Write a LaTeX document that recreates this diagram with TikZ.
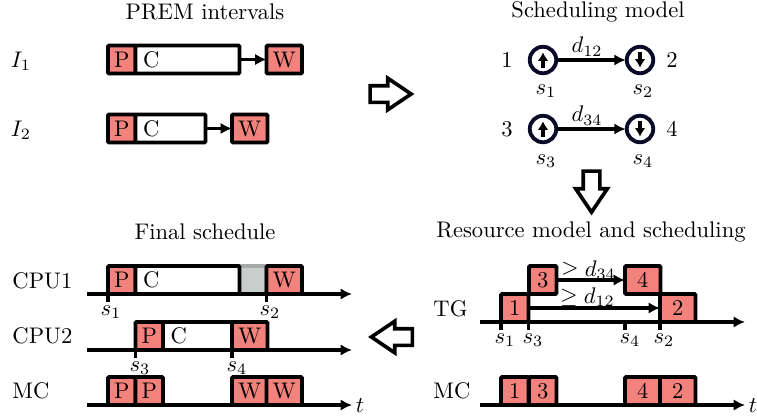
\documentclass[tikz,border=0pt]{standalone}
\usetikzlibrary{shapes.arrows, arrows.meta}

\newcommand{\unitpx}{0.443pt}
\definecolor{premred}{HTML}{F4827C}
\definecolor{idlegray}{HTML}{C9CDCB}
\definecolor{idleline}{HTML}{A6ABA9}
\definecolor{ringblue}{HTML}{0A0A28}

\tikzset{
  blk/.style={draw, line width=1.6pt, anchor=west, outer sep=0pt, inner xsep=0pt, inner ysep=0pt,
    minimum height=28*\unitpx, text height=6.83pt, text depth=0pt, rounded corners=0.4pt},
  pblk/.style={blk, fill=premred, minimum width=27.5*\unitpx},
  wblk/.style={blk, fill=premred, minimum width=35.5*\unitpx},
  cblk/.style={blk, fill=white, minimum width=#1*\unitpx, align=left, text width=#1*\unitpx-15*\unitpx, inner xsep=7.5*\unitpx},
  idleblk/.style={blk, fill=idlegray, draw=idleline, minimum width=27*\unitpx},
  ring/.style={circle, draw=ringblue, fill=white, line width=1.7pt, minimum size=26.5*\unitpx, inner sep=0pt, outer sep=0.5pt},
  wire/.style={->, line width=1.6pt},
  axis/.style={->, line width=1.6pt},
  tick/.style={line width=1.6pt},
  dirarrow/.style={-{Latex[length=3.8pt, width=4.8pt]}, line width=1.6pt},
  bigarrow/.style={single arrow, draw, line width=1.6pt, fill=white, inner xsep=0pt, inner ysep=6.5*\unitpx, outer sep=0pt,
    minimum height=41*\unitpx, single arrow head extend=7.5*\unitpx,
    single arrow tip angle=68, single arrow head indent=0pt},
}

\begin{document}
\begin{tikzpicture}[>={Latex[length=5pt, width=5pt]}, x=\unitpx, y=-\unitpx]
    \useasboundingbox (0, 0) rectangle (757, 418);

    % TITLES
    \node (titleprem) at (205, 12) {PREM intervals};
    \node (titlemodel) at (598, 12) {Scheduling model};
    \node (titlefinal) at (205, 232) {Final schedule};
    \node (titleres) at (591, 232) {Resource model and scheduling};

    % PREM INTERVALS
    \node (labi1) at (21, 61) {$I_1$};
    \node (p1) at (108, 59.5) [pblk] {P};
    \node (c1) at (135.5, 59.5) [cblk=104] {C};
    \node (w1) at (266.5, 59.5) [wblk] {W};
    \draw[wire] (c1) -- (w1);

    \node (labi2) at (21, 130) {$I_2$};
    \node (p2) at (108, 128.5) [pblk] {P};
    \node (c2) at (135.5, 128.5) [cblk=70] {C};
    \node (w2) at (232, 128.5) [wblk] {W};
    \draw[wire] (c2) -- (w2);

    % SCHEDULING MODEL
    \node (a1) at (543, 60) [ring] {};
    \node (a2) at (640, 60) [ring] {};
    \node (a3) at (543, 129) [ring] {};
    \node (a4) at (640, 129) [ring] {};
    \node (n1) at (507, 60) {1};
    \node (n2) at (672, 60) {2};
    \node (n3) at (507, 129) {3};
    \node (n4) at (672, 129) {4};
    \node (m1) at (546, 91) {$s_1$};
    \node (m2) at (643, 91) {$s_2$};
    \node (m3) at (546, 161) {$s_3$};
    \node (m4) at (643, 161) {$s_4$};
    \draw[wire] (a1) -- node[above, yshift=-2.5pt, xshift=-2pt] {$d_{12}$} (a2);
    \draw[wire] (a3) -- node[above, yshift=-2.5pt, xshift=-2pt] {$d_{34}$} (a4);
    % Arrows inside the circles
    \draw[dirarrow] ([yshift=-3.4pt]a1.center) -- ([yshift=3.4pt]a1.center);
    \draw[dirarrow] ([yshift=3.4pt]a2.center) -- ([yshift=-3.4pt]a2.center);
    \draw[dirarrow] ([yshift=-3.4pt]a3.center) -- ([yshift=3.4pt]a3.center);
    \draw[dirarrow] ([yshift=3.4pt]a4.center) -- ([yshift=-3.4pt]a4.center);

    % BLOCK ARROWS
    \node (toright) at (384.5, 94) [bigarrow] {};
    \node (todown) at (591.5, 185.5) [bigarrow, rotate=-90] {};
    \node (toleft) at (398, 337) [bigarrow, rotate=180] {};

    % FINAL SCHEDULE
    \node (labcpu1) at (4.5, 281) [anchor=west] {CPU1};
    \node (labcpu2) at (4.5, 336) [anchor=west] {CPU2};
    \node (labmc1) at (4.5, 391) [anchor=west] {MC};

    \coordinate (cpu1a) at (87, 294);
    \coordinate (cpu1b) at (352, 294);
    \node (idle) at (239, 280) [idleblk] {};
    \node (p3) at (108, 280) [pblk] {P};
    \node (c3) at (135.5, 280) [cblk=104] {C};
    \node (w3) at (266.5, 280) [wblk] {W};
    \draw[axis] (cpu1a) -- (cpu1b);
    \draw[tick] (p3.south west) -- ++(0, 8);
    \draw[tick] (w3.south west) -- ++(0, 8);
    \node (f1) at (111, 312) {$s_1$};
    \node (f2) at (270, 312) {$s_2$};

    \coordinate (cpu2a) at (87, 350);
    \coordinate (cpu2b) at (352, 350);
    \node (p4) at (135.5, 336) [pblk] {P};
    \node (c4) at (163, 336) [cblk=69] {C};
    \node (w4) at (232, 336) [wblk] {W};
    \draw[axis] (cpu2a) -- (cpu2b);
    \draw[tick] (p4.south west) -- ++(0, 8);
    \draw[tick] (w4.south west) -- ++(0, 8);
    \node (f3) at (140, 368) {$s_3$};
    \node (f4) at (237, 368) {$s_4$};

    \coordinate (mc1a) at (87, 405);
    \coordinate (mc1b) at (352, 405);
    \node (p5) at (108, 391) [pblk] {P};
    \node (p6) at (135.5, 391) [pblk] {P};
    \node (w5) at (232, 391) [wblk] {W};
    \node (w6) at (266.5, 391) [wblk] {W};
    \draw[axis] (mc1a) -- (mc1b);
    \node (t1) at (360, 406) {$t$};

    % RESOURCE MODEL
    \node (labtg) at (425.5, 309) [anchor=west] {TG};
    \node (labmc2) at (425.5, 391) [anchor=west] {MC};

    \coordinate (tga) at (480, 322);
    \coordinate (tgb) at (745, 322);
    \node (b1) at (501, 308) [pblk] {1};
    \node (b3) at (529, 280) [pblk] {3};
    \node (b4) at (625, 280) [wblk] {4};
    \node (b2) at (660, 308) [wblk] {2};
    \draw[axis] (tga) -- (tgb);
    \draw[wire] (b3) -- node[above, yshift=-4pt, xshift=-1pt] {$\geq d_{34}$} (b4);
    \draw[wire] (b1) -- node[above, yshift=-3.5pt, xshift=-3pt] {$\geq d_{12}$} (b2);
    \draw[tick] (b1.south west) -- ++(0, 8);
    \draw[tick] (b1.south east) -- ++(0, 8);
    \draw[tick] (b4.south west |- b1.south) -- ++(0, 8);
    \draw[tick] (b2.south west) -- ++(0, 8);
    \node (r1) at (505, 340) {$s_1$};
    \node (r3) at (533, 340) {$s_3$};
    \node (r4) at (630, 340) {$s_4$};
    \node (r2) at (664, 340) {$s_2$};

    \coordinate (mc2a) at (480, 405);
    \coordinate (mc2b) at (745, 405);
    \node (d1) at (501, 391) [pblk] {1};
    \node (d3) at (529, 391) [pblk] {3};
    \node (d4) at (625, 391) [wblk] {4};
    \node (d2) at (660, 391) [wblk] {2};
    \draw[axis] (mc2a) -- (mc2b);
    \node (t2) at (753, 406) {$t$};
\end{tikzpicture}
\end{document}
